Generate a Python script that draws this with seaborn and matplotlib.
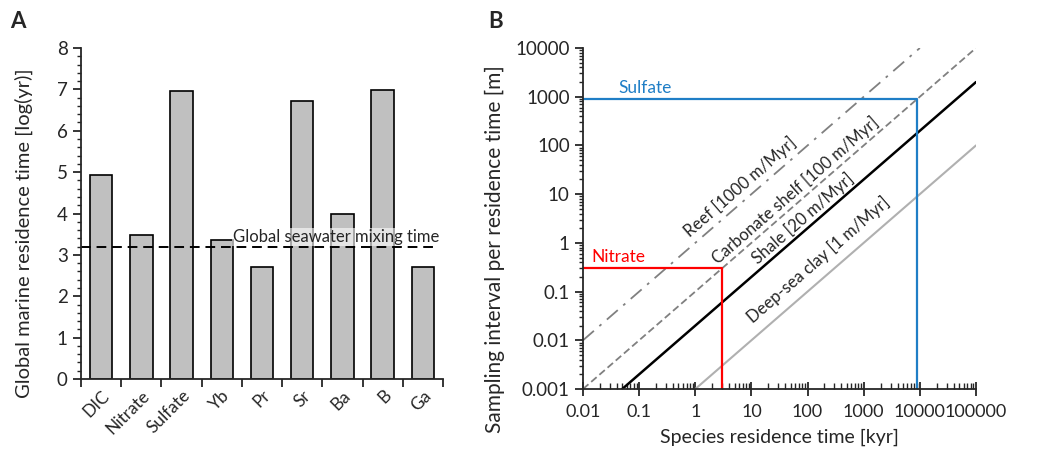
import numpy as np
import pandas as pd
import matplotlib
matplotlib.use("Agg")
import matplotlib.pyplot as plt
import matplotlib.ticker as mticker
import seaborn as sns

# Panel A data
species = ['DIC', 'Nitrate', 'Sulfate', 'Yb', 'Pr', 'Sr', 'Ba', 'B', 'Ga']
log_residence = [4.93, 3.48, 6.95, 3.35, 2.70, 6.72, 4.00, 6.98, 2.70]
mixing_time = 3.2

# Panel B data (x: residence time kyr, y: sampling interval m)
reef_x, reef_y = [0.01, 10000], [0.01, 10000]
shelf_x, shelf_y = [0.01, 100000], [0.001, 10000]
shale_x, shale_y = [0.05, 100000], [0.001, 2000]
clay_x, clay_y = [1, 100000], [0.001, 100]
nitrate_x, nitrate_y = [0.01, 3, 3], [0.3, 0.3, 0.001]
sulfate_x, sulfate_y = [0.01, 9000, 9000], [900, 900, 0.001]
log_ticks = [0.001, 0.01, 0.1, 1, 10, 100, 1000, 10000, 100000]
log_labels = ['0.001', '0.01', '0.1', '1', '10', '100', '1000', '10000', '100000']

sns.set_style("ticks")
plt.rcParams['font.family'] = ['Lato', 'DejaVu Sans']
plt.rcParams['axes.linewidth'] = 1.3

fig = plt.figure(figsize=(10.45, 4.54), dpi=100)
W, H = 1045, 454
axA = fig.add_axes([81 / W, 1 - 379 / H, (443 - 81) / W, (379 - 48) / H])
axB = fig.add_axes([583 / W, 1 - 389 / H, (976 - 583) / W, (389 - 48) / H])

# ---- Panel A
dfA = pd.DataFrame({'species': species, 'value': log_residence})
sns.barplot(data=dfA, x='species', y='value', color='#c0c0c0', saturation=1,
            edgecolor='black', linewidth=1.2, width=0.56, ax=axA)
axA.set_xlim(-0.5, len(species) - 0.5)
axA.set_ylim(0, 8)
axA.set_yticks(range(0, 9))
axA.yaxis.set_minor_locator(mticker.MultipleLocator(0.2))
axA.set_xticks(np.arange(-0.5, len(species), 1.0))
axA.set_xticklabels([])
axA.set_xticks(range(len(species)), minor=True)
axA.set_xticklabels(species, minor=True, rotation=45, ha='right',
                    rotation_mode='anchor', fontsize=12.5)
axA.tick_params(axis='x', which='minor', length=0, pad=6)
axA.tick_params(axis='x', which='major', length=6, width=1.3)
axA.tick_params(axis='y', which='major', length=6, width=1.3, labelsize=13.5)
axA.tick_params(axis='y', which='minor', length=3, width=1)
axA.plot([-0.5, 8.3], [mixing_time, mixing_time], ls=(0, (5, 3)), color='black', lw=1.4)
axA.text(5.85, 3.43, 'Global seawater mixing time', ha='center', va='center', fontsize=12,
         bbox=dict(facecolor='white', alpha=0.6, edgecolor='none', pad=1))
axA.set_xlabel('')
axA.set_ylabel('Global marine residence time [log(yr)]', fontsize=14.5)
axA.yaxis.set_label_coords(-0.133, 0.44)
sns.despine(ax=axA)

# ---- Panel B
def line(x, y, **kw):
    sns.lineplot(x=x, y=y, ax=axB, sort=False, estimator=None, **kw)

line(reef_x, reef_y, color='#808080', lw=1.3, linestyle=(0, (8, 4, 1.5, 4)))
line(shelf_x, shelf_y, color='#808080', lw=1.3, linestyle=(0, (4, 2)))
line(shale_x, shale_y, color='black', lw=1.8)
line(clay_x, clay_y, color='#b0b0b0', lw=1.5)
line(nitrate_x, nitrate_y, color='#ff0000', lw=1.6)
line(sulfate_x, sulfate_y, color='#1f7ec6', lw=1.6)

axB.set_xscale('log')
axB.set_yscale('log')
axB.xaxis.set_major_locator(mticker.FixedLocator(log_ticks))
axB.xaxis.set_major_formatter(mticker.FixedFormatter(log_labels))
axB.yaxis.set_major_locator(mticker.FixedLocator(log_ticks))
axB.yaxis.set_major_formatter(mticker.FixedFormatter(log_labels))
axB.xaxis.set_minor_locator(mticker.LogLocator(base=10, subs=np.arange(2, 10), numticks=20))
axB.yaxis.set_minor_locator(mticker.LogLocator(base=10, subs=np.arange(2, 10), numticks=20))
axB.xaxis.set_minor_formatter(mticker.NullFormatter())
axB.yaxis.set_minor_formatter(mticker.NullFormatter())
axB.tick_params(axis='x', which='major', direction='inout', length=10, width=1.3, labelsize=13, pad=6)
axB.tick_params(axis='x', which='minor', direction='in', length=4, width=1)
axB.tick_params(axis='y', which='major', direction='out', length=6, width=1.3, labelsize=13.5)
axB.tick_params(axis='y', which='minor', direction='out', length=3, width=1)
axB.set_xlim(0.01, 100000)
axB.set_ylim(0.001, 10000)
axB.set_xlabel('Species residence time [kyr]', fontsize=14, labelpad=6)
axB.set_ylabel('Sampling interval per residence time [m]', fontsize=15)
axB.yaxis.set_label_coords(-0.198, 0.41)
sns.despine(ax=axB)

ang = np.degrees(np.arctan((341 / 7) / (393 / 7)))
lab_kw = dict(rotation=ang, ha='center', va='center', rotation_mode='anchor', fontsize=12)
axB.text(6.3, 14, 'Reef [1000 m/Myr]', **lab_kw)
axB.text(60, 12, 'Carbonate shelf [100 m/Myr]', **lab_kw)
axB.text(83, 3.2, 'Shale [20 m/Myr]', **lab_kw)
axB.text(155, 0.45, 'Deep-sea clay [1 m/Myr]', **lab_kw)
axB.text(0.126, 1500, 'Sulfate', color='#1f7ec6', ha='center', va='center', fontsize=12.5)
axB.text(0.042, 0.51, 'Nitrate', color='#ff0000', ha='center', va='center', fontsize=12.5)

fig.text(10 / W, 1 - 22 / H, 'A', fontsize=16, fontweight='bold', va='center')
fig.text(488 / W, 1 - 22 / H, 'B', fontsize=16, fontweight='bold', va='center')

fig.savefig('out.png', dpi=100)
